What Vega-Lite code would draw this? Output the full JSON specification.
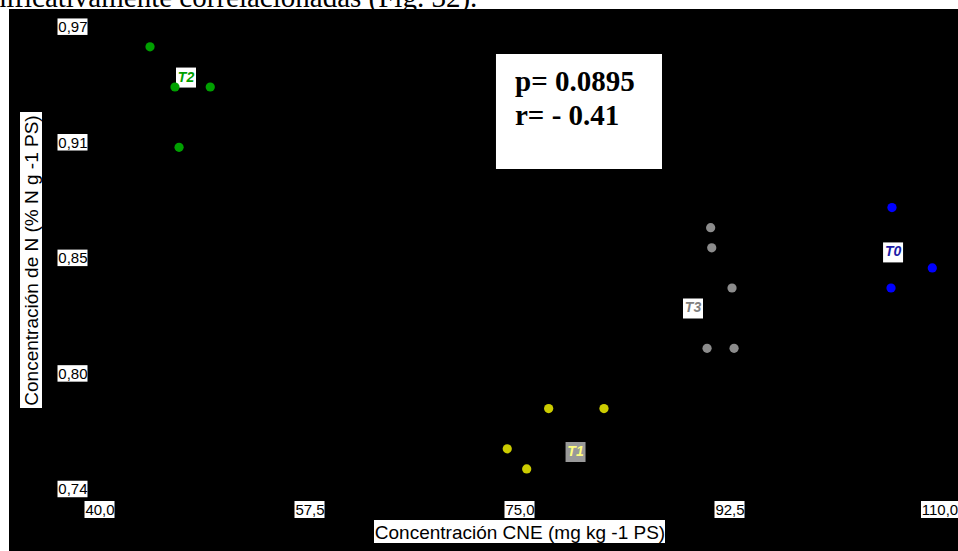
{
  "$schema": "https://vega.github.io/schema/vega-lite/v6.json",
  "width": 949,
  "height": 542,
  "autosize": {"type": "none"},
  "padding": {"left": 9, "top": 9, "right": 0, "bottom": 0},
  "background": "white",
  "config": {
    "view": {"fill": "black", "stroke": null},
    "axis": {
      "domain": false, "ticks": false, "grid": false,
      "labelFont": "Liberation Sans", "labelFontSize": 15, "labelColor": "black",
      "labelOverlap": false, "labelFlush": false, "labelBound": false,
      "titleFont": "Liberation Sans", "titleFontSize": 19, "titleFontWeight": "normal", "titleColor": "black"
    }
  },
  "datasets": {
    "points": [
      {"grupo": "T2", "cne": 44.21, "n": 0.96},
      {"grupo": "T2", "cne": 46.29, "n": 0.94},
      {"grupo": "T2", "cne": 49.23, "n": 0.94},
      {"grupo": "T2", "cne": 46.63, "n": 0.91},
      {"grupo": "T3", "cne": 90.93, "n": 0.87},
      {"grupo": "T3", "cne": 91.02, "n": 0.86},
      {"grupo": "T3", "cne": 92.71, "n": 0.84},
      {"grupo": "T3", "cne": 90.63, "n": 0.81},
      {"grupo": "T3", "cne": 92.88, "n": 0.81},
      {"grupo": "T0", "cne": 106.04, "n": 0.88},
      {"grupo": "T0", "cne": 109.4, "n": 0.85},
      {"grupo": "T0", "cne": 105.96, "n": 0.84},
      {"grupo": "T1", "cne": 77.43, "n": 0.78},
      {"grupo": "T1", "cne": 82.04, "n": 0.78},
      {"grupo": "T1", "cne": 73.98, "n": 0.76},
      {"grupo": "T1", "cne": 75.6, "n": 0.75}
    ],
    "labels": [
      {"grupo": "T2", "cne": 47.21, "n": 0.9447},
      {"grupo": "T3", "cne": 89.46, "n": 0.8298},
      {"grupo": "T0", "cne": 106.13, "n": 0.8577},
      {"grupo": "T1", "cne": 79.67, "n": 0.7584}
    ],
    "yticks": [{"v": 0.74}, {"v": 0.7975}, {"v": 0.855}, {"v": 0.9125}, {"v": 0.97}],
    "xticks4": [{"v": 40}, {"v": 57.5}, {"v": 75}, {"v": 92.5}],
    "xticks5": [{"v": 110}],
    "doc": [{"texto": "significativamente correlacionadas (Fig. 32)."}],
    "one": [{}]
  },
  "layer": [
    {
      "data": {"name": "one"},
      "mark": {"type": "rect", "color": "white"},
      "encoding": {
        "x": {"datum": 73.04, "type": "quantitative", "scale": {"domain": [32.4583, 111.5417], "nice": false, "zero": false}},
        "x2": {"datum": 86.875},
        "y": {"datum": 0.9564, "type": "quantitative", "scale": {"domain": [0.70915, 0.978806], "nice": false, "zero": false}},
        "y2": {"datum": 0.8992}
      }
    },
    {
      "data": {"name": "one"},
      "mark": {"type": "text", "text": ["p= 0.0895", "r= - 0.41"], "align": "left", "baseline": "alphabetic",
               "lineHeight": 34, "font": "Liberation Serif", "fontSize": 29, "fontWeight": "bold", "color": "black"},
      "encoding": {
        "x": {"datum": 74.625, "type": "quantitative"},
        "y": {"datum": 0.93816, "type": "quantitative"}
      }
    },
    {
      "data": {"name": "doc"},
      "mark": {"type": "text", "align": "left", "baseline": "alphabetic",
               "font": "Liberation Serif", "fontSize": 29, "color": "black"},
      "encoding": {
        "x": {"datum": 28.2, "type": "quantitative"},
        "y": {"datum": 0.9798, "type": "quantitative"},
        "text": {"field": "texto"}
      }
    },
    {
      "data": {"name": "yticks"},
      "mark": {"type": "point", "shape": "M-1,-0.55H1V0.55H-1Z", "size": 900, "filled": true, "opacity": 1, "color": "white"},
      "encoding": {
        "x": {"datum": 37.75, "type": "quantitative"},
        "y": {"field": "v", "type": "quantitative"}
      }
    },
    {
      "data": {"name": "xticks4"},
      "mark": {"type": "point", "shape": "M-1,-0.567H1V0.567H-1Z", "size": 900, "filled": true, "opacity": 1, "color": "white"},
      "encoding": {
        "x": {"field": "v", "type": "quantitative"},
        "y": {"datum": 0.7298, "type": "quantitative"}
      }
    },
    {
      "data": {"name": "xticks5"},
      "mark": {"type": "point", "shape": "M-1,-0.459H1V0.459H-1Z", "size": 1369, "filled": true, "opacity": 1, "color": "white"},
      "encoding": {
        "x": {"field": "v", "type": "quantitative"},
        "y": {"datum": 0.7298, "type": "quantitative"}
      }
    },
    {
      "data": {"name": "one"},
      "mark": {"type": "point", "shape": "M-1,-0.079H1V0.079H-1Z", "size": 84681, "filled": true, "opacity": 1, "color": "white"},
      "encoding": {
        "x": {"datum": 75.0, "type": "quantitative"},
        "y": {"datum": 0.71886, "type": "quantitative"}
      }
    },
    {
      "data": {"name": "one"},
      "mark": {"type": "point", "shape": "M-0.0743,-1H0.0743V1H-0.0743Z", "size": 87616, "filled": true, "opacity": 1, "color": "white"},
      "encoding": {
        "x": {"datum": 34.2917, "type": "quantitative"},
        "y": {"datum": 0.85393, "type": "quantitative"}
      }
    },
    {
      "data": {"name": "labels"},
      "mark": {"type": "point", "shape": "square", "size": 400, "filled": true, "opacity": 1},
      "encoding": {
        "x": {"field": "cne", "type": "quantitative"},
        "y": {"field": "n", "type": "quantitative"},
        "color": {"field": "grupo", "type": "nominal", "legend": null,
                  "scale": {"domain": ["T0", "T1", "T2", "T3"], "range": ["#ffffff", "#999999", "#ffffff", "#ffffff"]}}
      }
    },
    {
      "data": {"name": "labels"},
      "mark": {"type": "text", "font": "Liberation Sans", "fontSize": 14, "fontWeight": "bold", "fontStyle": "italic",
               "align": "center", "baseline": "middle"},
      "encoding": {
        "x": {"field": "cne", "type": "quantitative"},
        "y": {"field": "n", "type": "quantitative"},
        "text": {"field": "grupo"},
        "color": {"field": "grupo", "type": "nominal", "legend": null,
                  "scale": {"domain": ["T0", "T1", "T2", "T3"], "range": ["#1a1aa6", "#ffff80", "#00a000", "#808080"]}}
      }
    },
    {
      "data": {"name": "points"},
      "mark": {"type": "point", "shape": "circle", "size": 85, "filled": true, "opacity": 1},
      "encoding": {
        "x": {"field": "cne", "type": "quantitative",
              "axis": {"orient": "bottom", "offset": -62, "values": [40, 57.5, 75, 92.5, 110],
                       "labelExpr": "replace(format(datum.value, '.1f'), '.', ',')",
                       "labelPadding": 13, "zindex": 2,
                       "title": "Concentración CNE (mg kg -1 PS)",
                       "titleX": 510.5, "titleY": 34, "titleBaseline": "top", "titleAlign": "center"}},
        "y": {"field": "n", "type": "quantitative",
              "axis": {"orient": "left", "offset": -90.5, "values": [0.74, 0.7975, 0.855, 0.9125, 0.97],
                       "labelExpr": "replace(format(datum.value, '.2f'), '.', ',')",
                       "labelPadding": 12.5, "zindex": 2,
                       "title": "Concentración de N (% N g -1 PS)",
                       "titleAngle": -90, "titleX": -68.5, "titleY": 251, "titleBaseline": "middle", "titleAlign": "center"}},
        "color": {"field": "grupo", "type": "nominal", "legend": null,
                  "scale": {"domain": ["T0", "T1", "T2", "T3"], "range": ["#0000ff", "#cccc00", "#00a000", "#8c8c8c"]}}
      }
    }
  ],
  "resolve": {"scale": {"color": "independent"}}
}
